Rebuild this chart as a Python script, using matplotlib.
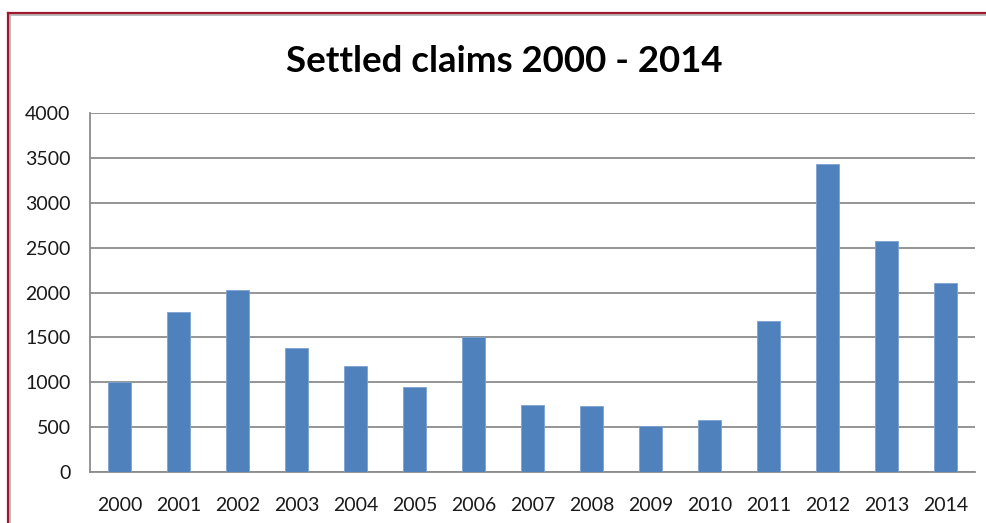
import matplotlib
matplotlib.use('Agg')
import matplotlib.pyplot as plt
from matplotlib.lines import Line2D

plt.rcParams['font.family'] = ['Lato', 'DejaVu Sans']

years = ['2000', '2001', '2002', '2003', '2004', '2005', '2006', '2007',
         '2008', '2009', '2010', '2011', '2012', '2013', '2014']
claims = [1000, 1780, 2030, 1380, 1180, 950, 1500, 750, 730, 510, 580, 1680, 3430, 2570, 2110]
yticks = [0, 500, 1000, 1500, 2000, 2500, 3000, 3500, 4000]

W, H = 987, 523
fig = plt.figure(figsize=(W / 100, H / 100), dpi=100)
ax = fig.add_axes([90 / W, 1 - 471.7 / H, 885 / W, 358.4 / H])

ax.bar(range(len(years)), claims, width=0.4, color='#4F81BD', edgecolor='#7da2d3', lw=0.6, zorder=3)
ax.set_xlim(-0.5, len(years) - 0.5)
ax.set_ylim(0, 4000)
ax.set_yticks(yticks)
ax.set_xticks(range(len(years)))
ax.set_xticklabels(years)
ax.yaxis.grid(True, color='#8c8c8c', lw=1.3, zorder=0)
ax.tick_params(axis='both', length=0, labelsize=14, colors='#1a1a1a')
ax.tick_params(axis='y', pad=14)
ax.tick_params(axis='x', pad=18)
for s in ['top', 'right']:
    ax.spines[s].set_visible(False)
for s in ['left', 'bottom']:
    ax.spines[s].set_color('#8c8c8c')
    ax.spines[s].set_linewidth(1.3)

fig.text(504 / W, 1 - 61 / H, 'Settled claims 2000 - 2014', ha='center', va='center',
         fontsize=26.4, fontweight='bold', color='black')

# outer frame (dark red with a grey shadow)
fig.add_artist(Line2D([8 / W, 1], [1 - 15 / H, 1 - 15 / H], transform=fig.transFigure, color='#b0b0b0', lw=1.2))
fig.add_artist(Line2D([10 / W, 10 / W], [0, 1 - 13 / H], transform=fig.transFigure, color='#b0b0b0', lw=1.2))
fig.add_artist(Line2D([8 / W, 1], [1 - 13 / H, 1 - 13 / H], transform=fig.transFigure, color='#A0182E', lw=1.6))
fig.add_artist(Line2D([8 / W, 8 / W], [0, 1 - 13 / H], transform=fig.transFigure, color='#A0182E', lw=1.6))

fig.savefig('out.png', dpi=100)
